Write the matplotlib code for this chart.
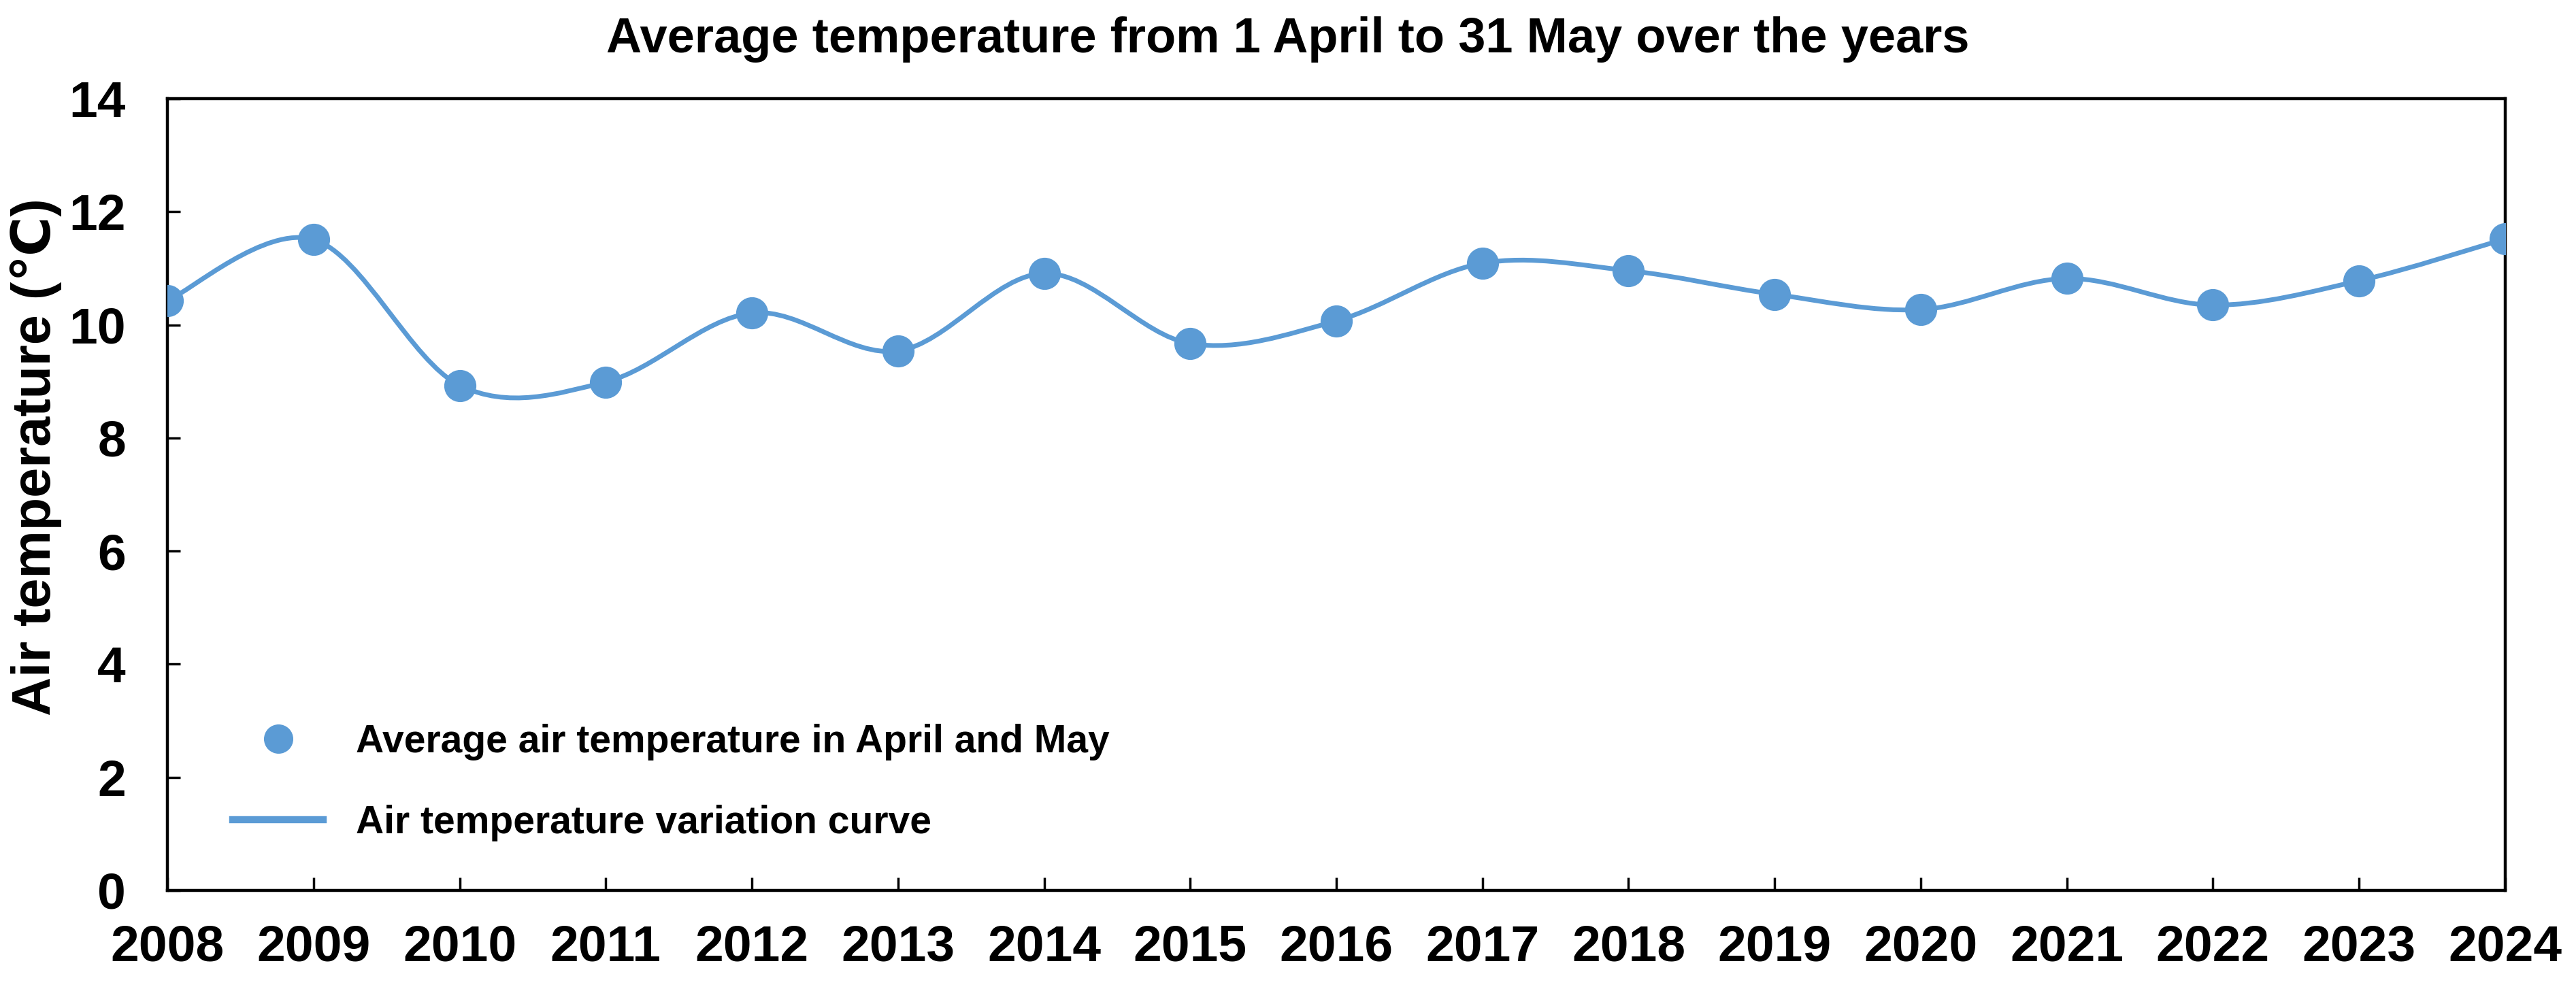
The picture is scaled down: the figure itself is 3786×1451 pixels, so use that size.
import numpy as np
import matplotlib
matplotlib.use("Agg")
import matplotlib.pyplot as plt
from matplotlib.path import Path
from matplotlib.patches import PathPatch
from matplotlib.lines import Line2D

plt.rcParams['font.family'] = ['Liberation Sans', 'DejaVu Sans']
plt.rcParams['font.weight'] = 'bold'

# data
years = [2008, 2009, 2010, 2011, 2012, 2013, 2014, 2015, 2016,
         2017, 2018, 2019, 2020, 2021, 2022, 2023, 2024]
temps = [10.43, 11.51, 8.93, 8.99, 10.21, 9.54, 10.91, 9.67, 10.07,
         11.09, 10.96, 10.54, 10.27, 10.82, 10.35, 10.78, 11.52]
yticks = [0, 2, 4, 6, 8, 10, 12, 14]

BLUE = '#5B9BD5'


def smooth_path(x, y):
    # Excel-style smoothed line: cubic bezier through each point,
    # control handles from neighbouring points (catmull-rom, /6)
    x = np.asarray(x, float)
    y = np.asarray(y, float)
    n = len(x)
    verts = [(x[0], y[0])]
    codes = [Path.MOVETO]
    for i in range(n - 1):
        p0 = max(i - 1, 0)
        p3 = min(i + 2, n - 1)
        c1 = (x[i] + (x[i + 1] - x[p0]) / 6, y[i] + (y[i + 1] - y[p0]) / 6)
        c2 = (x[i + 1] - (x[p3] - x[i]) / 6, y[i + 1] - (y[p3] - y[i]) / 6)
        verts += [c1, c2, (x[i + 1], y[i + 1])]
        codes += [Path.CURVE4] * 3
    return Path(verts, codes)


fig = plt.figure(figsize=(37.86, 14.51), dpi=100)
ax = fig.add_axes([0.065, 0.098, 0.9075, 0.802])

curve = PathPatch(smooth_path(years, temps), facecolor='none',
                  edgecolor=BLUE, lw=5, zorder=2)
ax.add_patch(curve)
ax.plot(years, temps, 'o', color=BLUE, ms=34, mec='none', zorder=3)

ax.set_xlim(years[0], years[-1])
ax.set_ylim(0, 14)
ax.set_xticks(years)
ax.set_yticks(yticks)

for s in ax.spines.values():
    s.set_linewidth(3.2)

ax.tick_params(axis='both', direction='in', length=14, width=2.5,
               labelsize=54)
ax.tick_params(axis='x', pad=36)
ax.tick_params(axis='y', pad=44)
for lab in ax.get_xticklabels() + ax.get_yticklabels():
    lab.set_fontweight('bold')

fig.text(0.5, 0.96, 'Average temperature from 1 April to 31 May over the years',
         ha='center', va='center', fontsize=52, fontweight='bold')
fig.text(53 / 3786, 1 - 672 / 1451, 'Air temperature (℃)', rotation=90,
         ha='center', va='center', fontsize=57, fontweight='bold')

handles = [Line2D([], [], ls='none', marker='o', color=BLUE, ms=31, mec='none'),
           Line2D([], [], color=BLUE, lw=7.5)]
labels = ['Average air temperature in April and May',
          'Air temperature variation curve']
leg = ax.legend(handles, labels, loc='center left',
                bbox_to_anchor=(0.028, 0.136), frameon=False,
                fontsize=41, handlelength=2.33, handletextpad=0.85,
                labelspacing=1.15, borderpad=0, borderaxespad=0)
for t in leg.get_texts():
    t.set_fontweight('bold')

fig.savefig('out.png', dpi=100)
